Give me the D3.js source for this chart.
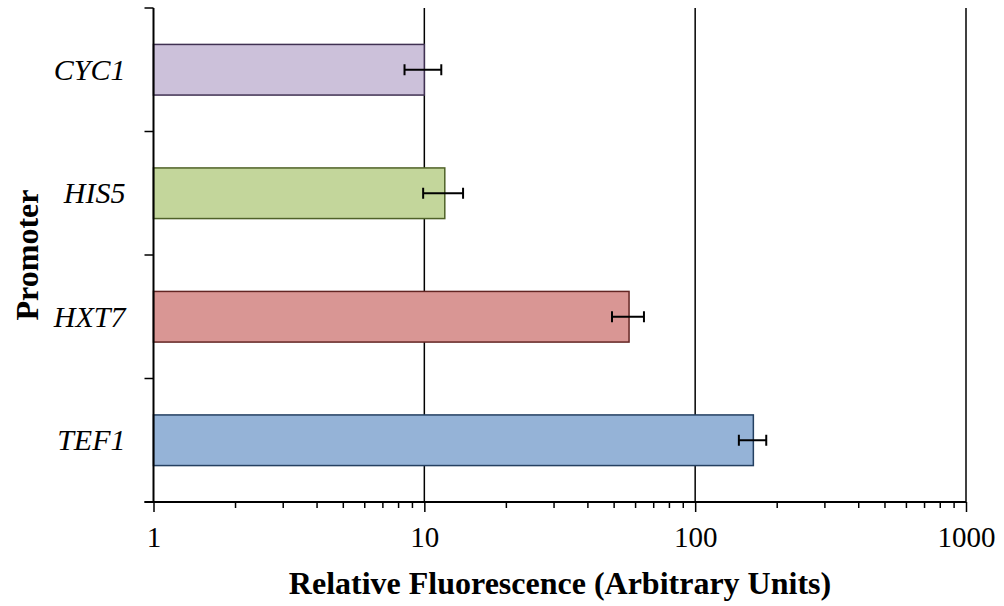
<!DOCTYPE html>
<html>
<head>
  <script src="https://cdn.jsdelivr.net/npm/d3@7"></script>
  <style>
    body { margin: 0; background: #fff; }
    svg text { font-family: "Liberation Serif", "Times New Roman", serif; fill: #000; }
  </style>
</head>
<body>
  <div id="chart"></div>
  <script>
    const promoters = ["CYC1", "HIS5", "HXT7", "TEF1"];
    const fluorescence = [10, 11.9, 57, 164];
    const errors = [1.55, 2.0, 7.7, 19];
    const fills = ["#ccc1da", "#c3d69b", "#d99694", "#95b3d7"];
    const strokes = ["#403152", "#4f6228", "#632523", "#244061"];
    const majorTicks = [1, 10, 100, 1000];

    const W = 1004, H = 606;
    const m = {left: 153.5, right: 38, top: 8, bottom: 104};
    const serif = "Liberation Serif, Times New Roman, serif";

    const svg = d3.select("#chart").append("svg")
      .attr("width", W).attr("height", H);

    const x = d3.scaleLog().domain([1, 1000]).range([m.left, W - m.right]);
    const y = d3.scaleBand().domain(promoters).range([m.top, H - m.bottom]).padding(0);
    const barH = y.bandwidth() * 0.41;

    const minorTicks = [];
    for (let d = 1; d < 1000; d *= 10)
      for (let k = 2; k <= 9; k++) minorTicks.push(d * k);

    // gridlines at decades
    svg.append("g").selectAll("line").data(majorTicks.slice(1)).join("line")
      .attr("x1", d => x(d)).attr("x2", d => x(d))
      .attr("y1", m.top).attr("y2", H - m.bottom)
      .attr("stroke", "#000").attr("stroke-width", 1.5);

    // bars
    const rows = promoters.map((p, i) => ({p, v: fluorescence[i], e: errors[i], fill: fills[i], stroke: strokes[i]}));
    svg.append("g").selectAll("rect").data(rows).join("rect")
      .attr("x", x(1))
      .attr("y", d => y(d.p) + (y.bandwidth() - barH) / 2)
      .attr("width", d => x(d.v) - x(1))
      .attr("height", barH)
      .attr("fill", d => d.fill)
      .attr("stroke", d => d.stroke)
      .attr("stroke-width", 1.5);

    // error bars
    const eb = svg.append("g").attr("stroke", "#000").attr("stroke-width", 2);
    rows.forEach(d => {
      const cy = y(d.p) + y.bandwidth() / 2;
      eb.append("line").attr("x1", x(d.v - d.e)).attr("x2", x(d.v + d.e)).attr("y1", cy).attr("y2", cy);
      [d.v - d.e, d.v + d.e].forEach(v => {
        eb.append("line").attr("x1", x(v)).attr("x2", x(v)).attr("y1", cy - 5.5).attr("y2", cy + 5.5);
      });
    });

    // x axis minor ticks
    svg.append("g").attr("transform", `translate(0,${H - m.bottom})`)
      .call(d3.axisBottom(x).tickValues(minorTicks).tickSize(6).tickFormat(""))
      .call(g => g.select(".domain").remove())
      .call(g => g.selectAll("line").attr("stroke-width", 1.5));

    // x axis major
    svg.append("g").attr("transform", `translate(0,${H - m.bottom})`)
      .call(d3.axisBottom(x).tickValues(majorTicks).tickSize(10).tickSizeOuter(0).tickPadding(14).tickFormat(d3.format("d")))
      .attr("font-family", serif).attr("font-size", 29)
      .call(g => g.select(".domain").attr("stroke-width", 2).attr("d", `M${x(1) - 9},0H${x(1000)}`))
      .call(g => g.selectAll("line").attr("stroke-width", 1.5));

    // y axis
    svg.append("g").attr("transform", `translate(${x(1)},0)`)
      .call(d3.axisLeft(y).tickSize(0).tickPadding(28))
      .attr("font-family", serif).attr("font-size", 30)
      .call(g => g.select(".domain").attr("stroke-width", 2).attr("d", `M0,${m.top}V${H - m.bottom}`))
      .call(g => g.selectAll("text").attr("font-style", "italic").attr("dy", "0.33em"));

    svg.append("g").selectAll("line")
      .data(promoters.map(p => y(p)).concat([H - m.bottom]))
      .join("line")
      .attr("x1", x(1) - 9).attr("x2", x(1))
      .attr("y1", d => d).attr("y2", d => d)
      .attr("stroke", "#000").attr("stroke-width", 1.5);

    // titles
    svg.append("text")
      .attr("x", 560).attr("y", 594)
      .attr("text-anchor", "middle").attr("font-size", 32).attr("font-weight", "bold")
      .text("Relative Fluorescence (Arbitrary Units)");

    svg.append("text")
      .attr("transform", `translate(38,${(m.top + H - m.bottom) / 2}) rotate(-90)`)
      .attr("text-anchor", "middle").attr("font-size", 32).attr("font-weight", "bold")
      .text("Promoter");
  </script>
</body>
</html>
